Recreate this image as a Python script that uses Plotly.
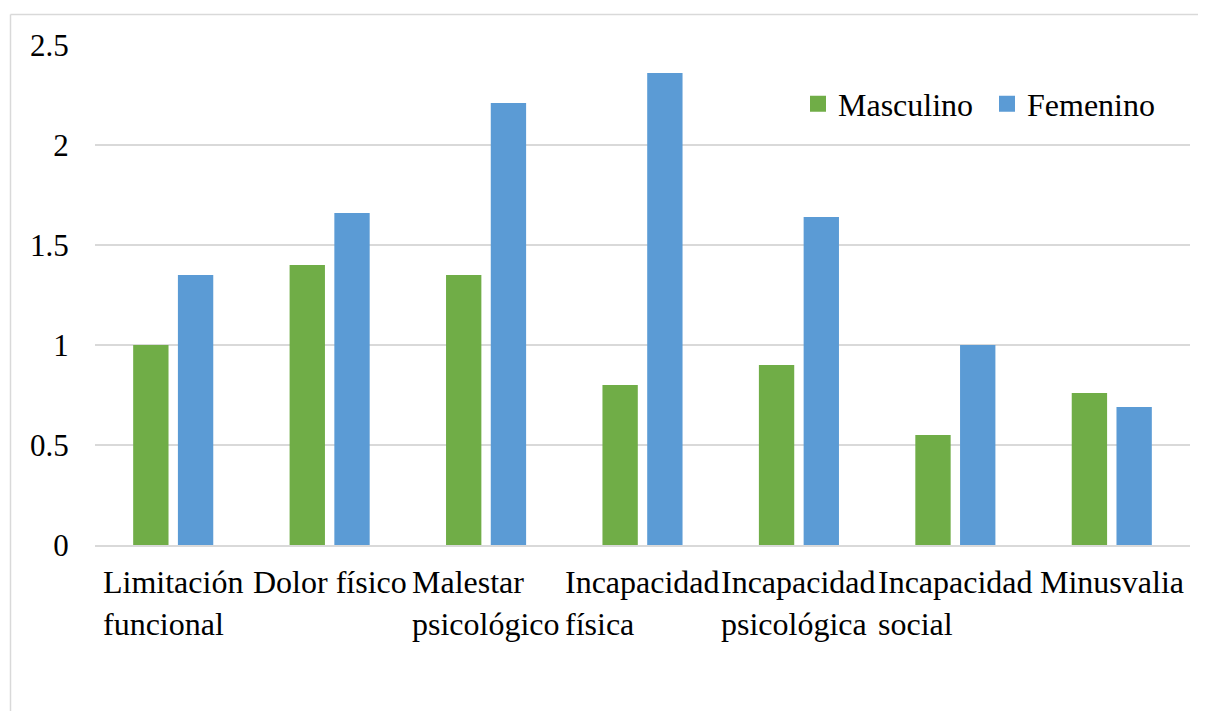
"""Calidad de vida por dimensión y sexo"""
import plotly.graph_objects as go

categorias = ["Limitación funcional", "Dolor físico", "Malestar psicológico",
              "Incapacidad física", "Incapacidad psicológica", "Incapacidad social",
              "Minusvalia"]
etiquetas = ["Limitación<br>funcional", "Dolor físico", "Malestar<br>psicológico",
             "Incapacidad<br>física", "Incapacidad<br>psicológica", "Incapacidad<br>social",
             "Minusvalia"]
masculino = [1.0, 1.4, 1.35, 0.8, 0.9, 0.55, 0.76]
femenino = [1.35, 1.66, 2.21, 2.36, 1.64, 1.0, 0.69]
y_ticks = [0, 0.5, 1, 1.5, 2, 2.5]

VERDE = "#70AD47"
AZUL = "#5B9BD5"
GRIS = "#D9D9D9"
FUENTE = "Liberation Serif, Times New Roman, serif"

fig = go.Figure()
fig.add_trace(go.Bar(x=categorias, y=masculino, name="Masculino",
                     marker=dict(color=VERDE, line=dict(width=0)), showlegend=False))
fig.add_trace(go.Bar(x=categorias, y=femenino, name="Femenino",
                     marker=dict(color=AZUL, line=dict(width=0)), showlegend=False))

# entradas de leyenda con cuadrado más grande
for nombre, color in [("Masculino", VERDE), ("Femenino", AZUL)]:
    fig.add_trace(go.Scatter(x=[None], y=[None], mode="markers", name=nombre,
                             marker=dict(symbol="square", size=16, color=color)))

# etiquetas del eje x: bloque centrado, líneas alineadas a la izquierda
for cat, txt in zip(categorias, etiquetas):
    fig.add_annotation(x=cat, xref="x", y=-0.033, yref="paper", yanchor="top",
                       xanchor="center", align="left", showarrow=False, text=txt,
                       font=dict(family=FUENTE, size=32, color="#000000"))

# borde del área del gráfico (la página añade 8 px de margen al cuerpo)
bx = (2.5 - 87) / 1095
by = (537 - 6.5) / 500
fig.add_shape(type="line", xref="paper", yref="paper", x0=bx, x1=bx, y0=by, y1=-0.4,
              line=dict(color=GRIS, width=1.5))
fig.add_shape(type="line", xref="paper", yref="paper", x0=bx, x1=(1198 - 87) / 1095,
              y0=by, y1=by, line=dict(color=GRIS, width=1.5))

fig.update_layout(
    width=1198, height=703,
    margin=dict(l=87, r=16, t=37, b=166),
    paper_bgcolor="white", plot_bgcolor="white",
    font=dict(family=FUENTE, size=32, color="#000000"),
    barmode="group", bargap=0.428, bargroupgap=0.21,
    xaxis=dict(showticklabels=False, showgrid=False, showline=True,
               linecolor=GRIS, linewidth=1.5, ticks=""),
    yaxis=dict(range=[0, 2.5], tickvals=y_ticks, ticktext=[f"{v:g}" for v in y_ticks],
               showgrid=True, gridcolor=GRIS, gridwidth=1.5, zeroline=False,
               showline=False, ticks="outside", ticklen=19, tickcolor="rgba(0,0,0,0)",
               tickfont=dict(size=31)),
    legend=dict(orientation="h", x=(798 - 95) / 1095, xanchor="left",
                y=(545 - 104) / 500, yanchor="middle", bgcolor="rgba(0,0,0,0)",
                font=dict(size=32), entrywidth=144, entrywidthmode="pixels"),
    showlegend=True,
)

fig.write_html("out.html")
